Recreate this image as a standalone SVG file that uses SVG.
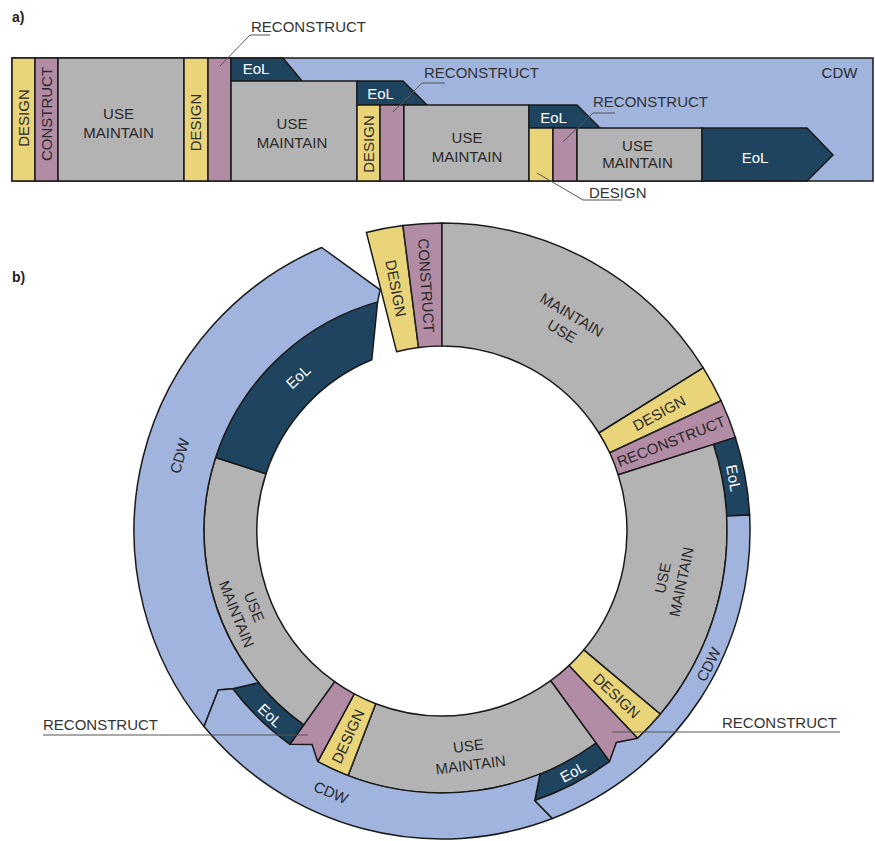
<svg xmlns="http://www.w3.org/2000/svg" width="875" height="841" viewBox="0 0 875 841">
<style>
.s{stroke:#1a1a1a;stroke-width:1.5;stroke-linejoin:miter}
.d{fill:#E9D47A}
.c{fill:#B28BA5}
.g{fill:#B3B3B3}
.e{fill:#1E445F}
.w{fill:#A0B4DE}
text{font-family:"Liberation Sans",Arial,sans-serif;font-size:15px;fill:#2a2a2a;text-anchor:middle}
text.tw{fill:#ffffff}
text.lb{text-anchor:start;fill:#333333}
text.hd{font-weight:bold;font-size:14px;text-anchor:start;fill:#222222}
.ln{fill:none;stroke:#555555;stroke-width:1}
</style>
<rect width="875" height="841" fill="#ffffff"/>
<text class="hd" x="12" y="22">a)</text>
<text class="hd" x="12" y="282">b)</text>

<!-- Part a -->
<g id="a-cdw"><rect class="s w" x="12" y="58" width="861" height="123"/><text x="839.5" y="78">CDW</text></g>
<g id="a-design1"><rect class="s d" x="12" y="58" width="23" height="123"/><text transform="translate(23.5,118) rotate(-90)" y="5.4">DESIGN</text></g>
<g id="a-construct"><rect class="s c" x="35" y="58" width="23" height="123"/><text transform="translate(46.5,114) rotate(-90)" y="5.4">CONSTRUCT</text></g>
<g id="a-use1"><rect class="s g" x="58" y="58" width="126" height="123"/><text x="118.5" y="119">USE</text><text x="118.5" y="138">MAINTAIN</text></g>
<g id="a-design2"><rect class="s d" x="184" y="58" width="24" height="123"/><text transform="translate(196,122.5) rotate(-90)" y="5.4">DESIGN</text></g>
<g id="a-reconstruct2"><rect class="s c" x="208" y="58" width="23" height="123"/></g>
<g id="a-eol1"><polygon class="s e" points="231,58 283,58 302,81 231,81"/><text class="tw" x="256" y="74">EoL</text></g>
<g id="a-use2"><rect class="s g" x="231" y="81" width="126" height="100"/><text x="292" y="129">USE</text><text x="292" y="148">MAINTAIN</text></g>
<g id="a-eol2"><polygon class="s e" points="357,81 403,81 427,105 357,105"/><text class="tw" x="380.5" y="99">EoL</text></g>
<g id="a-design3"><rect class="s d" x="357" y="105" width="23" height="76"/><text transform="translate(368.5,144) rotate(-90)" y="5.4">DESIGN</text></g>
<g id="a-reconstruct3"><rect class="s c" x="380" y="105" width="24" height="76"/></g>
<g id="a-use3"><rect class="s g" x="404" y="105" width="125" height="76"/><text x="467" y="143">USE</text><text x="467" y="162">MAINTAIN</text></g>
<g id="a-eol3"><polygon class="s e" points="529,105 577,105 600,128 529,128"/><text class="tw" x="553.5" y="122.5">EoL</text></g>
<g id="a-design4"><rect class="s d" x="529" y="128" width="24" height="53"/></g>
<g id="a-reconstruct4"><rect class="s c" x="553" y="128" width="24" height="53"/></g>
<g id="a-use4"><rect class="s g" x="577" y="128" width="125" height="53"/><text x="637.5" y="151">USE</text><text x="637.5" y="168">MAINTAIN</text></g>
<g id="a-eol4"><polygon class="s e" points="702,128 807,128 833,155 807,181 702,181"/><text class="tw" x="755" y="163">EoL</text></g>

<!-- Part b ring -->
<g id="b-design1"><path class="s d" d="M366.4,232.4 A308,308 0 0 1 402.9,225.5 L418.5,347.5 A185,185 0 0 0 396.6,351.7 Z"/><text transform="translate(395.9,288.3) rotate(79.25)" y="5.4">DESIGN</text></g>
<g id="b-construct"><path class="s c" d="M402.9,225.5 A308,308 0 0 1 442,223 L442,346 A185,185 0 0 0 418.5,347.5 Z"/><text transform="translate(426.3,285.5) rotate(86.35)" y="5.4">CONSTRUCT</text></g>
<g id="b-use1"><path class="s g" d="M442,223 A308,308 0 0 1 703.2,367.8 L598.9,433 A185,185 0 0 0 442,346 Z"/><g transform="translate(567,323) rotate(31)"><text y="-4.1">MAINTAIN</text><text y="14.9">USE</text></g></g>
<g id="b-design2"><path class="s d" d="M703.2,367.8 A308,308 0 0 1 721.1,400.8 L609.7,452.8 A185,185 0 0 0 598.9,433 Z"/><text transform="translate(659.1,413.1) rotate(-28.5)" y="5.4">DESIGN</text></g>
<g id="b-reconstruct2"><path class="s c" d="M721.1,400.8 A308,308 0 0 1 735.4,437.4 L618.2,474.8 A185,185 0 0 0 609.7,452.8 Z"/><text transform="translate(671.1,441.4) rotate(-21.35)" y="5.4">RECONSTRUCT</text></g>
<g id="b-eol1"><path class="s e" d="M713.5,444.4 L735.4,437.4 A308,308 0 0 1 749.6,514.9 L726.6,516.1 A285,285 0 0 0 713.5,444.4 Z"/><text class="tw" transform="translate(733.7,478) rotate(79.7)" y="5.4">EoL</text></g>
<g id="b-use2"><path class="s g" d="M713.5,444.4 A285,285 0 0 1 660.3,714.2 L583.7,649.9 A185,185 0 0 0 618.2,474.8 Z"/><g transform="translate(671.9,579.9) rotate(-78)"><text y="-4.1">USE</text><text y="14.9">MAINTAIN</text></g></g>
<g id="b-design3"><path class="s d" d="M660.3,714.2 A285,285 0 0 1 637.6,738.3 L568.9,665.6 A185,185 0 0 0 583.7,649.9 Z"/><text transform="translate(616.6,695.7) rotate(43.35)" y="5.4">DESIGN</text></g>
<g id="b-reconstruct3"><path class="s c" d="M637.6,738.3 A285,285 0 0 1 609.5,761.6 L550.7,680.7 A185,185 0 0 0 568.9,665.6 Z"/></g>
<g id="b-eol2"><path class="s e" d="M596,743 L609.5,761.6 A285,285 0 0 1 534.8,800.5 L540.1,773.9 A262,262 0 0 0 596,743 Z"/><text class="tw" transform="translate(572.8,771.8) rotate(-28.5)" y="5.4">EoL</text></g>
<g id="b-use3"><path class="s g" d="M596,743 A262,262 0 0 1 348.1,775.6 L375.7,703.7 A185,185 0 0 0 550.7,680.7 Z"/><g transform="translate(469.5,755.3) rotate(-7)"><text y="-4.1">USE</text><text y="14.9">MAINTAIN</text></g></g>
<g id="b-design4"><path class="s d" d="M348.1,775.6 A262,262 0 0 1 317.8,761.7 L354.3,693.9 A185,185 0 0 0 375.7,703.7 Z"/><text transform="translate(347.8,736.4) rotate(-65.35)" y="5.4">DESIGN</text></g>
<g id="b-reconstruct4"><path class="s c" d="M317.8,761.7 A262,262 0 0 1 289.9,744.3 L334.6,681.6 A185,185 0 0 0 354.3,693.9 Z"/></g>
<g id="b-eol3"><path class="s e" d="M289.9,744.3 A262,262 0 0 1 232.8,688.7 L258.6,682.7 A238,238 0 0 0 303.8,724.8 Z"/><text class="tw" transform="translate(270.1,715.3) rotate(43)" y="5.4">EoL</text></g>
<g id="b-use4"><path class="s g" d="M303.8,724.8 A238,238 0 0 1 215.6,457.5 L266,473.8 A185,185 0 0 0 334.6,681.6 Z"/><g transform="translate(245.4,610.4) rotate(68)"><text y="-4.1">USE</text><text y="14.9">MAINTAIN</text></g></g>
<g id="b-eol4"><path class="s e" d="M215.6,457.5 A238,238 0 0 1 377.6,301.9 L371.8,359.8 A185,185 0 0 0 266,473.8 Z"/><text class="tw" transform="translate(298.1,376.7) rotate(-43)" y="5.4">EoL</text></g>
<g id="b-cdw3"><path class="s w" d="M258.6,682.7 L232.8,688.7 L218.3,690 L204,726.5 A308,308 0 0 1 321.7,247.5 L380.1,289.8 L377.6,301.9 A238,238 0 0 0 258.6,682.7 Z"/><text transform="translate(179.6,455.8) rotate(-74)" y="5.4">CDW</text></g>
<g id="b-cdw2"><path class="s w" d="M552.4,818.5 L534.8,800.5 L540.1,773.9 A262,262 0 0 1 317.8,761.7 L312.1,744.6 L289.9,744.3 A262,262 0 0 1 232.8,688.7 L218.3,690 L204,726.5 A308,308 0 0 0 552.4,818.5 Z"/><text transform="translate(331,792.4) rotate(23)" y="5.4">CDW</text></g>
<g id="b-cdw1"><path class="s w" d="M749.6,514.9 A308,308 0 0 1 552.4,818.5 L534.8,800.5 A285,285 0 0 0 609.5,761.6 L616.3,742.4 L637.6,738.3 A285,285 0 0 0 726.6,516.1 Z"/><text transform="translate(708.5,664.4) rotate(-63.4)" y="5.4">CDW</text></g>

<!-- labels -->
<g id="labels">
<text class="lb" x="251" y="32">RECONSTRUCT</text>
<text class="lb" x="424" y="78">RECONSTRUCT</text>
<text class="lb" x="593" y="107">RECONSTRUCT</text>
<text class="lb" x="589" y="198">DESIGN</text>
<text class="lb" x="43" y="730">RECONSTRUCT</text>
<text class="lb" x="722" y="728">RECONSTRUCT</text>
</g>
<g id="connectors">
<polyline class="ln" points="270,35 250,35 220,66"/>
<polyline class="ln" points="445,83 422,83 393,112"/>
<polyline class="ln" points="615,113 593,113 563,142"/>
<polyline class="ln" points="537,173 583,200 622,200"/>
<line class="ln" x1="43" y1="735" x2="308" y2="735"/>
<line class="ln" x1="612" y1="732" x2="840" y2="732"/>
</g>
</svg>
